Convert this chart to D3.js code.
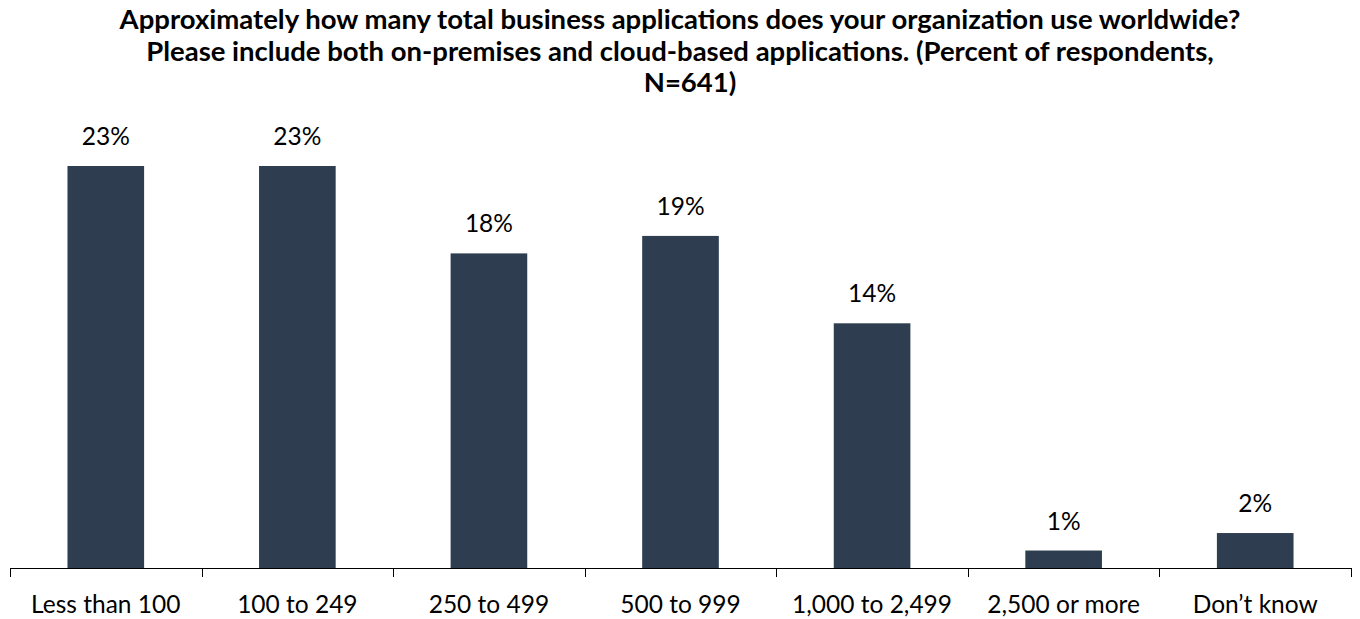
<!DOCTYPE html>
<html><head><meta charset="utf-8">
<script src="https://cdn.jsdelivr.net/npm/d3@7"></script>
<style>body{margin:0;background:#fff}svg{display:block}</style>
</head><body><svg id="c" width="1360" height="619"></svg>
<script>
const categories = ["Less than 100","100 to 249","250 to 499","500 to 999","1,000 to 2,499","2,500 or more","Don\u2019t know"];
const values = [23,23,18,19,14,1,2];
const titleLines = ["Approximately how many total business applications does your organization use worldwide?","Please include both on-premises and cloud-based applications. (Percent of respondents,","N=641)"];

const svg = d3.select("#c");
const font = "Lato, 'Open Sans', sans-serif";
const x = d3.scaleBand().domain(categories).range([10,1351]).paddingInner(0.6).paddingOuter(0.3);
const y = d3.scaleLinear().domain([0,23]).range([568,166]);

svg.append("g").selectAll("text").data(titleLines).join("text")
  .attr("x",(d,i)=>i===2?690:680).attr("y",(d,i)=>29+i*31.5).attr("text-anchor","middle")
  .style("font-family",font).style("font-weight","bold").style("font-size","27.5px").attr("fill","#000")
  .text(d=>d);

svg.append("g").selectAll("rect").data(values).join("rect")
  .attr("x",(d,i)=>x(categories[i])).attr("width",x.bandwidth())
  .attr("y",d=>y(d)).attr("height",d=>y(0)-y(d)).attr("fill","#2E3D4F");

svg.append("g").selectAll("text").data(values).join("text")
  .attr("x",(d,i)=>x(categories[i])+x.bandwidth()/2).attr("y",d=>y(d)-21)
  .attr("text-anchor","middle").style("font-family",font).style("font-size","24.5px").attr("fill","#000")
  .text(d=>d+"%");

// axis
const xa = d3.scaleBand().domain(categories).range([10,1351]);
const g = svg.append("g");
g.append("line").attr("x1",10).attr("x2",1351).attr("y1",568.5).attr("y2",568.5).attr("stroke","#000").attr("stroke-width",1);
const ticks = categories.map(c=>xa(c)).concat([1351]);
g.selectAll("line.t").data(ticks).join("line").attr("class","t")
  .attr("x1",d=>Math.round(d)+0.5).attr("x2",d=>Math.round(d)+0.5).attr("y1",568).attr("y2",577).attr("stroke","#000");
g.selectAll("text").data(categories).join("text")
  .attr("x",d=>xa(d)+xa.bandwidth()/2).attr("y",613).attr("text-anchor","middle")
  .style("font-family",font).style("font-size","24.5px").attr("fill","#000").text(d=>d);
</script></body></html>
